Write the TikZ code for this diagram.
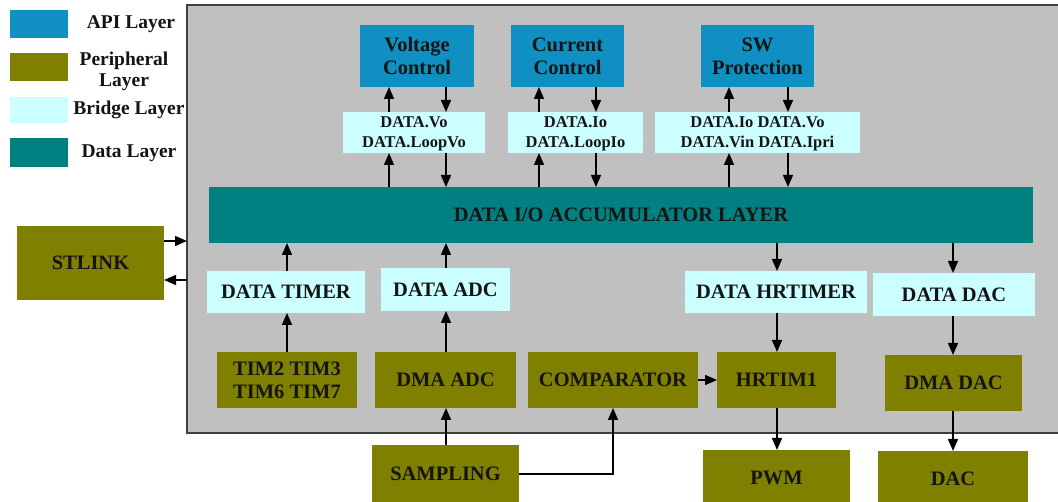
\documentclass[tikz,border=0pt]{standalone}
\usepackage{fontspec}
\setmainfont{Liberation Serif}
\usetikzlibrary{arrows.meta}

\definecolor{apiblue}{RGB}{16,143,194}
\definecolor{periph}{RGB}{128,128,0}
\definecolor{bridge}{RGB}{204,255,255}
\definecolor{datateal}{RGB}{0,128,128}
\definecolor{coregray}{RGB}{192,192,192}
\definecolor{ink}{RGB}{20,20,20}

% block placed by its top-left and bottom-right corners (pixel-like units)
\newcommand\blk[7]{%
  \node[#2, anchor=north west, minimum width={(#5-#3)*1pt}, minimum height={(#6-#4)*1pt}]
    (#1) at (#3,#4) {#7};}

\begin{document}
\begin{tikzpicture}[x=1pt, y=-1pt,
  every node/.style={inner sep=0pt, outer sep=0pt, text=ink, font=\fontsize{20.5}{23}\selectfont\bfseries, align=center},
  api/.style={fill=apiblue},
  periph/.style={fill=periph},
  bridgebox/.style={fill=bridge},
  small/.style={font=\fontsize{16.5}{20}\selectfont\bfseries},
  datalayer/.style={fill=datateal},
  arr/.style={line width=1.6pt, draw=black, -{Triangle[length=12pt, width=10pt]}}]

\useasboundingbox (0,0) rectangle (1058,502);

% legend
\blk{lgapi}{api}{10}{10}{68}{38}{}
\blk{lgper}{periph}{10}{53}{68}{81}{}
\blk{lgbri}{bridgebox}{10}{97}{68}{123}{}
\blk{lgdat}{datalayer}{10}{138}{68}{167}{}
\node[font=\fontsize{19.5}{21}\selectfont\bfseries] (lgapit) at (131,24) {API Layer};
\node[font=\fontsize{19.5}{21}\selectfont\bfseries] (lgpert) at (124,71) {Peripheral\\Layer};
\node[font=\fontsize{19.5}{21}\selectfont\bfseries] (lgbrit) at (129,110) {Bridge Layer};
\node[font=\fontsize{19.5}{21}\selectfont\bfseries] (lgdatt) at (129,153) {Data Layer};

% controller area
\node[fill=coregray, draw=black!75, line width=2pt, anchor=north west,
      minimum width=880pt, minimum height=428pt] (core) at (187,5) {};

% API layer
\blk{vc}{api}{360}{25}{474}{87}{Voltage\\Control}
\blk{cc}{api}{511}{25}{624}{87}{Current\\Control}
\blk{sw}{api}{701}{25}{814}{87}{SW\\Protection}

% bridge layer (top)
\blk{vbr}{bridgebox,small}{343}{112}{485}{153}{\strut DATA.Vo\\DATA.LoopVo}
\blk{cbr}{bridgebox,small}{508}{112}{643}{153}{\strut DATA.Io\\DATA.LoopIo}
\blk{sbr}{bridgebox,small}{655}{112}{860}{153}{\strut DATA.Io DATA.Vo\\DATA.Vin DATA.Ipri}

% data layer
\blk{acc}{datalayer}{209}{187}{1033}{243}{DATA I/O ACCUMULATOR LAYER}

% bridge layer (bottom)
\blk{dtimer}{bridgebox}{207}{271}{365}{313}{DATA TIMER}
\blk{dadc}{bridgebox}{381}{268}{510}{311}{DATA ADC}
\blk{dhrt}{bridgebox}{685}{271}{867}{313}{DATA HRTIMER}
\blk{ddac}{bridgebox}{873}{273}{1035}{316}{DATA DAC}

% peripheral layer
\blk{stlink}{periph}{17}{226}{164}{300}{STLINK}
\blk{tim}{periph}{217}{352}{357}{408}{TIM2 TIM3\\TIM6 TIM7}
\blk{dmaadc}{periph}{375}{352}{516}{408}{DMA ADC}
\blk{comp}{periph}{528}{352}{698}{408}{COMPARATOR}
\blk{hrtim}{periph}{717}{352}{836}{408}{HRTIM1}
\blk{dmadac}{periph}{885}{355}{1022}{411}{DMA DAC}
\blk{sampling}{periph}{372}{445}{519}{502}{SAMPLING}
\blk{pwm}{periph}{703}{450}{850}{506}{PWM}
\blk{dac}{periph}{878}{451}{1028}{506}{DAC}

% API <-> bridge
\draw[arr] (vbr.north -| 389,0) -- (vc.south -| 389,0);
\draw[arr] (vc.south -| 446,0) -- (vbr.north -| 446,0);
\draw[arr] (cbr.north -| 539,0) -- (cc.south -| 539,0);
\draw[arr] (cc.south -| 596,0) -- (cbr.north -| 596,0);
\draw[arr] (sbr.north -| 729,0) -- (sw.south -| 729,0);
\draw[arr] (sw.south -| 788,0) -- (sbr.north -| 788,0);

% bridge <-> accumulator
\draw[arr] (acc.north -| 389,0) -- (vbr.south -| 389,0);
\draw[arr] (vbr.south -| 446,0) -- (acc.north -| 446,0);
\draw[arr] (acc.north -| 539,0) -- (cbr.south -| 539,0);
\draw[arr] (cbr.south -| 596,0) -- (acc.north -| 596,0);
\draw[arr] (acc.north -| 729,0) -- (sbr.south -| 729,0);
\draw[arr] (sbr.south -| 788,0) -- (acc.north -| 788,0);

% debug link
\draw[arr] (stlink.east |- 0,241) -- (core.west |- 0,241);
\draw[arr] (core.west |- 0,280) -- (stlink.east |- 0,280);

% timer path
\draw[arr] (tim.north -| 287,0) -- (dtimer.south -| 287,0);
\draw[arr] (dtimer.north -| 287,0) -- (acc.south -| 287,0);

% adc path
\draw[arr] (sampling.north -| 446,0) -- (dmaadc.south -| 446,0);
\draw[arr] (dmaadc.north -| 446,0) -- (dadc.south -| 446,0);
\draw[arr] (dadc.north -| 446,0) -- (acc.south -| 446,0);
\coordinate (sbend) at (613,474);
\draw[arr] (sampling.east |- sbend) -- (sbend) -- (comp.south -| sbend);
\draw[arr] (comp.east) -- (hrtim.west);

% pwm path
\draw[arr] (acc.south -| 777,0) -- (dhrt.north -| 777,0);
\draw[arr] (dhrt.south -| 777,0) -- (hrtim.north -| 777,0);
\draw[arr] (hrtim.south -| 777,0) -- (pwm.north -| 777,0);

% dac path
\draw[arr] (acc.south -| 953,0) -- (ddac.north -| 953,0);
\draw[arr] (ddac.south -| 953,0) -- (dmadac.north -| 953,0);
\draw[arr] (dmadac.south -| 953,0) -- (dac.north -| 953,0);

\end{tikzpicture}
\end{document}
